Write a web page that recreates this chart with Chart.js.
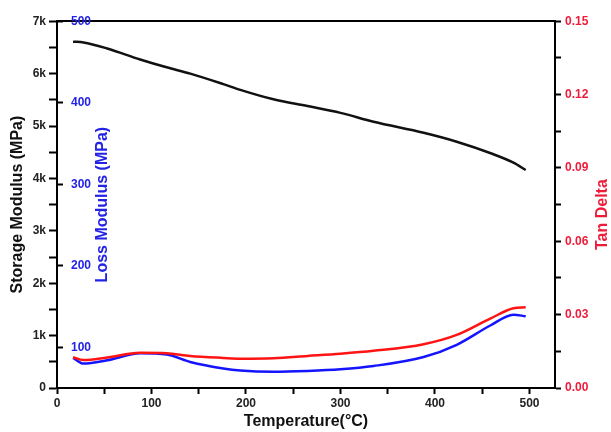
<!DOCTYPE html>
<html>
<head>
<meta charset="utf-8">
<script src="https://cdn.jsdelivr.net/npm/chart.js@4/dist/chart.umd.min.js"></script>
<style>
  html, body { margin: 0; padding: 0; background: #fff; }
  #wrap { width: 611px; height: 432px; }
</style>
</head>
<body>
<div id="wrap"><canvas id="grafico"></canvas></div>
<script>
// temperatura (°C)
const temps = [17, 28, 53, 88, 116, 141, 176, 194, 229, 265, 300, 335, 388, 423, 459, 483, 496];
// storage modulus (MPa)
const storage = [6610, 6595, 6480, 6270, 6120, 6000, 5800, 5690, 5510, 5380, 5250, 5080, 4870, 4700, 4480, 4300, 4160];
// loss modulus (MPa)
const loss = [87, 80, 84, 92.5, 91, 82, 74, 71.5, 70, 71, 73, 77, 88, 103, 127, 140, 138];
// tan delta
const tanDelta = [0.0126, 0.0114, 0.0125, 0.0144, 0.0142, 0.0131, 0.0123, 0.0120, 0.0122, 0.0131, 0.0140, 0.0152, 0.0179, 0.0217, 0.0285, 0.0326, 0.0330];

const FONT = "'Liberation Sans', Arial, sans-serif";
const RED = "#ee1c3a";
const BLUE = "#2323e6";

function pts(vals) {
  return temps.map((t, i) => ({ x: t, y: vals[i] }));
}

// titulo del eje derecho (se lee de abajo hacia arriba)
const tanTitle = {
  id: "tanTitle",
  afterDraw(chart) {
    const ctx = chart.ctx;
    const s = chart.scales.y2;
    ctx.save();
    ctx.translate(603, (s.top + s.bottom) / 2 + 10);
    ctx.rotate(-Math.PI / 2);
    ctx.fillStyle = RED;
    ctx.font = "bold 16px " + FONT;
    ctx.textAlign = "center";
    ctx.textBaseline = "middle";
    ctx.fillText("Tan Delta", 0, 0);
    ctx.restore();
  }
};

new Chart(document.getElementById("grafico").getContext("2d"), {
  type: "line",
  data: {
    datasets: [
      {
        label: "Storage Modulus",
        data: pts(storage),
        yAxisID: "y",
        borderColor: "#111",
        borderWidth: 2.5,
        pointRadius: 0,
        cubicInterpolationMode: "monotone"
      },
      {
        label: "Tan Delta",
        data: pts(tanDelta),
        yAxisID: "y2",
        borderColor: "#ff1414",
        borderWidth: 2.5,
        pointRadius: 0,
        cubicInterpolationMode: "monotone"
      },
      {
        label: "Loss Modulus",
        data: pts(loss),
        yAxisID: "y1",
        borderColor: "#1414ff",
        borderWidth: 2.5,
        pointRadius: 0,
        cubicInterpolationMode: "monotone"
      }
    ]
  },
  options: {
    responsive: true,
    maintainAspectRatio: false,
    animation: false,
    layout: { padding: 0 },
    plugins: {
      legend: { display: false },
      tooltip: { enabled: false }
    },
    scales: {
      x: {
        type: "linear",
        position: "bottom",
        min: 0,
        max: 527,
        afterFit: (s) => { s.height = 44; },
        border: { color: "#000", width: 2 },
        grid: { drawOnChartArea: false, tickLength: 6, tickColor: "#000", tickWidth: 2 },
        ticks: {
          stepSize: 50,
          includeBounds: false,
          padding: 2,
          color: "#222",
          font: { family: FONT, size: 12, weight: "bold" },
          callback: (v) => (v % 100 === 0 ? String(v) : "")
        },
        title: {
          display: true,
          text: "Temperature(°C)",
          color: "#111",
          padding: { top: 0, bottom: 1 },
          font: { family: FONT, size: 16, weight: "bold" }
        }
      },
      xTop: {
        type: "linear",
        position: "top",
        min: 0,
        max: 527,
        afterFit: (s) => { s.height = 21; },
        border: { color: "#000", width: 2 },
        grid: { drawOnChartArea: false, drawTicks: false },
        ticks: { display: false }
      },
      y: {
        type: "linear",
        position: "left",
        weight: 1,
        min: 0,
        max: 7000,
        afterFit: (s) => { s.width = 57; },
        border: { color: "#000", width: 2 },
        grid: { drawOnChartArea: false, tickLength: 8, tickColor: "#000", tickWidth: 2 },
        ticks: {
          stepSize: 500,
          includeBounds: false,
          padding: 3,
          color: "#222",
          font: { family: FONT, size: 12, weight: "bold" },
          callback: (v) => (v % 1000 === 0 ? (v === 0 ? "0" : v / 1000 + "k") : "")
        },
        title: {
          display: true,
          text: "Storage Modulus (MPa)",
          color: "#111",
          padding: { top: 8, bottom: 0 },
          font: { family: FONT, size: 16, weight: "bold" }
        }
      },
      y1: {
        type: "linear",
        position: "left",
        weight: 0,
        min: 50,
        max: 500,
        afterFit: (s) => { s.width = 0; },
        border: { display: false },
        grid: { drawOnChartArea: false, tickLength: -6, tickColor: "#000", tickWidth: 2 },
        ticks: {
          stepSize: 100,
          includeBounds: false,
          mirror: true,
          padding: 14,
          color: BLUE,
          font: { family: FONT, size: 12, weight: "bold" }
        },
        title: {
          display: true,
          text: "Loss Modulus (MPa)",
          color: BLUE,
          padding: { top: 36, bottom: 0 },
          font: { family: FONT, size: 16, weight: "bold" }
        }
      },
      y2: {
        type: "linear",
        position: "right",
        min: 0,
        max: 0.15,
        afterFit: (s) => { s.width = 56; },
        border: { color: "#000", width: 2 },
        grid: { drawOnChartArea: false, tickLength: 6, tickColor: "#000", tickWidth: 2 },
        ticks: {
          stepSize: 0.015,
          includeBounds: false,
          padding: 4,
          color: RED,
          font: { family: FONT, size: 12, weight: "bold" },
          callback: (v) => (Math.round(v / 0.015) % 2 === 0 ? v.toFixed(2) : "")
        }
      }
    }
  },
  plugins: [tanTitle]
});
</script>
</body>
</html>
